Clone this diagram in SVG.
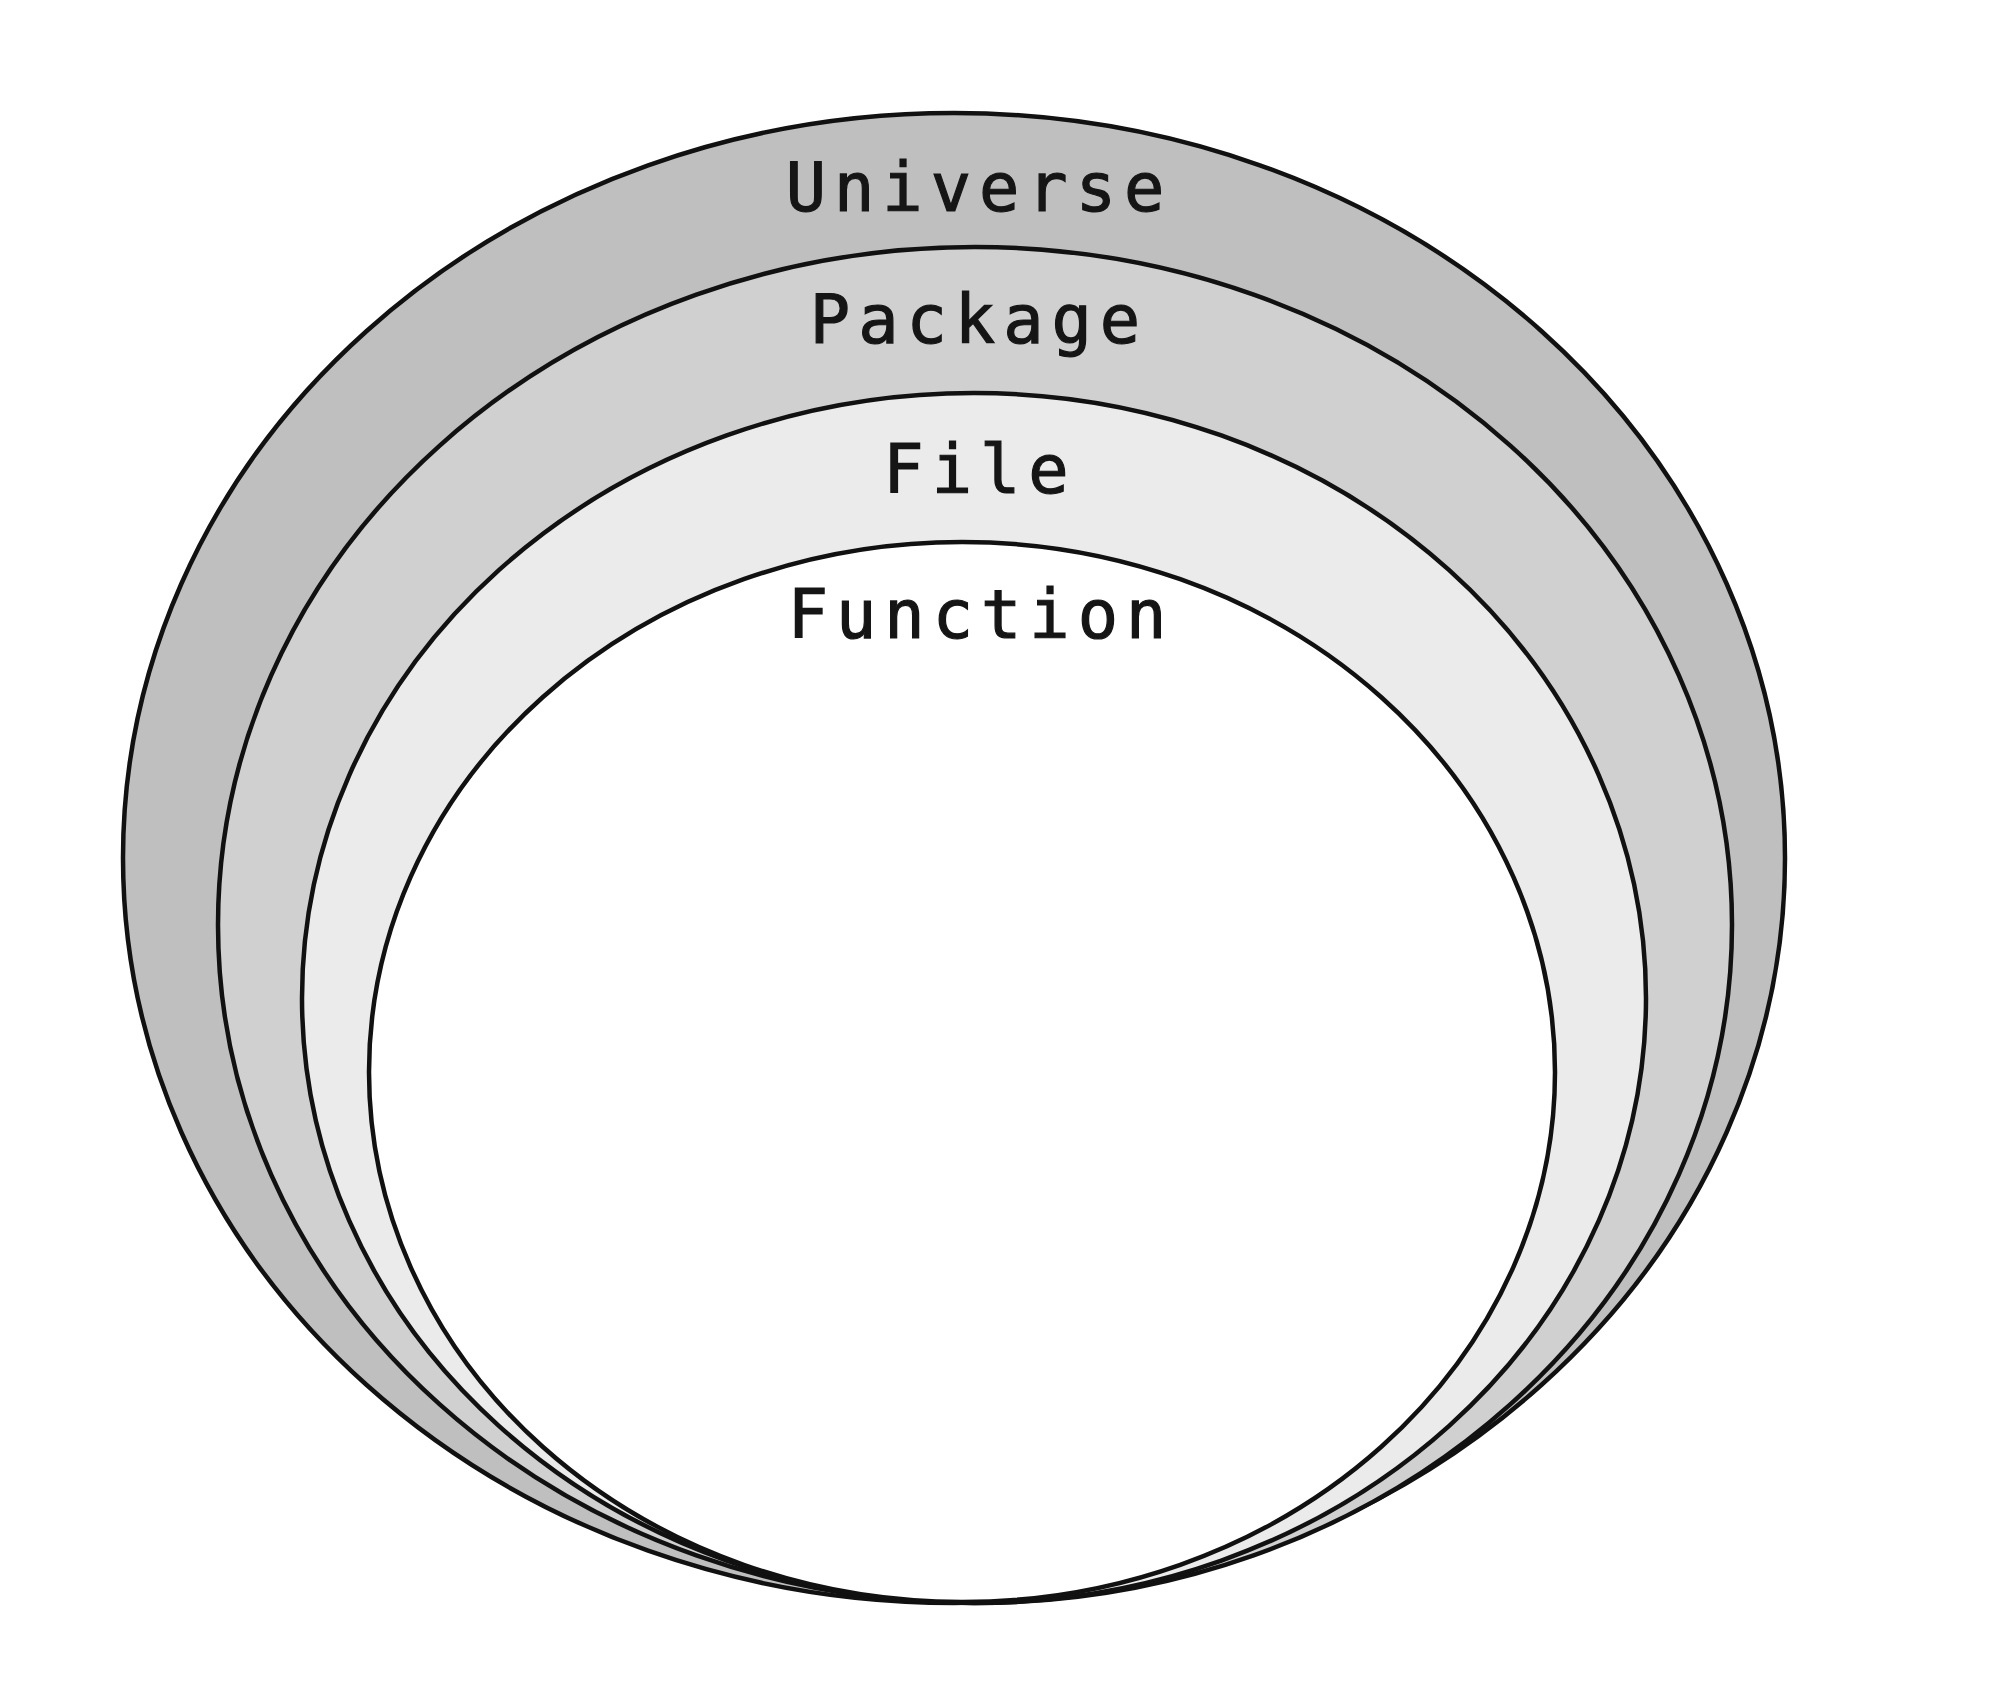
<svg xmlns="http://www.w3.org/2000/svg" width="2012" height="1702" viewBox="0 0 2012 1702">
<style>
.ring{stroke:#111;stroke-width:4.5}
.lbl{font-family:"DejaVu Sans Mono","Liberation Mono",monospace;font-size:67px;fill:#151515;stroke:#151515;stroke-width:1.2;text-anchor:middle;letter-spacing:8px}
</style>
<rect width="2012" height="1702" fill="#fff"/>
<g id="universe">
<ellipse class="ring" cx="954" cy="858" rx="831" ry="745" fill="#bfbfbf"/>
<text class="lbl" x="979" y="211">Universe</text>
</g>
<g id="package">
<ellipse class="ring" cx="975" cy="925" rx="757" ry="678" fill="#d0d0d0"/>
<text class="lbl" x="979" y="343">Package</text>
</g>
<g id="file">
<ellipse class="ring" cx="974" cy="998" rx="672" ry="605" fill="#ebebeb"/>
<text class="lbl" x="980" y="493">File</text>
</g>
<g id="function">
<ellipse class="ring" cx="962" cy="1072" rx="593" ry="530" fill="#fff"/>
<text class="lbl" x="981" y="638">Function</text>
</g>
<g id="connectors"/>
</svg>
